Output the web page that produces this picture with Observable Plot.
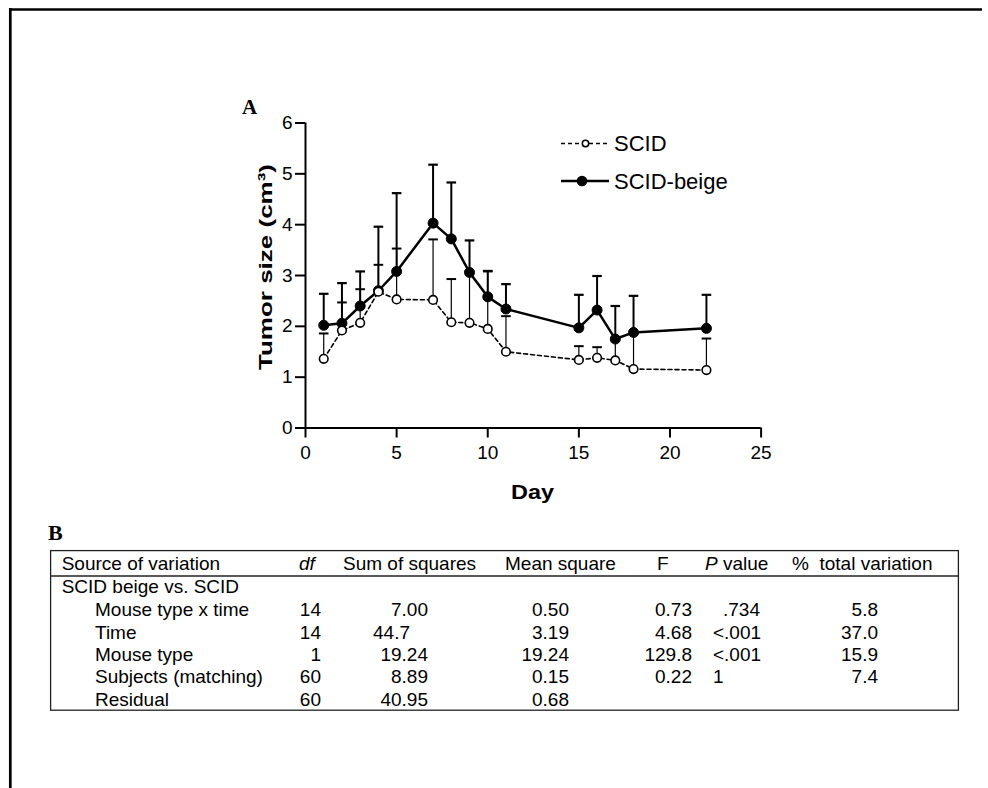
<!DOCTYPE html>
<html><head><meta charset="utf-8">
<script src="https://cdn.jsdelivr.net/npm/d3@7"></script>
<script src="https://cdn.jsdelivr.net/npm/@observablehq/plot@0.6"></script>
<style>
html,body{margin:0;padding:0;background:#fff;}
#fig{position:relative;width:988px;height:788px;overflow:hidden;background:#fff;}
#chart{position:absolute;left:0;top:0;}
#overlay{position:absolute;left:0;top:0;}
</style>
</head><body>
<div id="fig"><div id="chart"></div><svg id="overlay" width="988" height="788"></svg></div>
<script>
// ---------- Panel A data (tumor size, cm^3) ----------
const days        = [1, 2, 3, 4, 5, 7, 8, 9, 10, 11, 15, 16, 17, 18, 22];
const beigeMean   = [2.02, 2.06, 2.40, 2.70, 3.08, 4.03, 3.72, 3.06, 2.58, 2.34, 1.97, 2.32, 1.75, 1.88, 1.96];
const beigeUpper  = [2.64, 2.85, 3.08, 3.96, 4.62, 5.18, 4.83, 3.69, 3.09, 2.83, 2.62, 2.99, 2.40, 2.60, 2.62];
const scidMean    = [1.36, 1.92, 2.07, 2.68, 2.53, 2.52, 2.08, 2.07, 1.95, 1.50, 1.34, 1.38, 1.33, 1.16, 1.14];
const scidUpper   = [1.86, 2.47, 2.73, 3.21, 3.53, 3.71, 2.93, 3.08, 3.08, 2.20, 1.61, 1.59, 1.72, 1.85, 1.76];
const xTicks = [0, 5, 10, 15, 20, 25];
const yTicks = [0, 1, 2, 3, 4, 5, 6];
const seriesNames = ["SCID", "SCID-beige"];
const xLabel = "Day";
const yLabel = "Tumor size (cm³)";

// ---------- Panel B table ----------
const tableHeaders = ["Source of variation", "df", "Sum of squares", "Mean square", "F", "P value", "%  total variation"];
const groupLabel = "SCID beige vs. SCID";
const sources = ["Mouse type x time", "Time", "Mouse type", "Subjects (matching)", "Residual"];
const dfVals  = ["14", "14", "1", "60", "60"];
const sumSq   = ["7.00", "44.7", "19.24", "8.89", "40.95"];
const meanSq  = ["0.50", "3.19", "19.24", "0.15", "0.68"];
const fVals   = ["0.73", "4.68", "129.8", "0.22", ""];
const pVals   = [".734", "<.001", "<.001", "1", ""];
const pctVals = ["5.8", "37.0", "15.9", "7.4", ""];

const beige = days.map((d, i) => ({day: d, mean: beigeMean[i], upper: beigeUpper[i]}));
const scid  = days.map((d, i) => ({day: d, mean: scidMean[i], upper: scidUpper[i]}));

const capSymbol = {draw(ctx, size) { const r = Math.sqrt(size / Math.PI); ctx.moveTo(-r, 0); ctx.lineTo(r, 0); }};
const SANS = "'Liberation Sans', Arial, sans-serif";

const chart = Plot.plot({
  width: 988, height: 510,
  marginLeft: 305, marginRight: 227.4, marginTop: 122.5, marginBottom: 82.5,
  style: {fontFamily: SANS, fontSize: "19px", color: "#000", background: "transparent", overflow: "visible"},
  x: {domain: [0, 25], label: null},
  y: {domain: [0, 6], label: null},
  marks: [
    Plot.axisX({ticks: xTicks, tickFormat: d3.format("d"), tickSize: 10, tickPadding: 7, strokeWidth: 2, label: null, fontSize: 19}),
    Plot.axisY({ticks: yTicks, tickFormat: d3.format("d"), tickSize: 10, tickPadding: 3, strokeWidth: 2, label: null, fontSize: 19}),
    Plot.ruleY([0], {stroke: "#000", strokeWidth: 2}),
    Plot.ruleX([0], {stroke: "#000", strokeWidth: 2}),
    // SCID-beige
    Plot.ruleX(beige, {x: "day", y1: "mean", y2: "upper", stroke: "#000", strokeWidth: 2}),
    Plot.dot(beige, {x: "day", y: "upper", symbol: capSymbol, r: 4.8, stroke: "#000", strokeWidth: 2.2, fill: "none"}),
    Plot.line(beige, {x: "day", y: "mean", stroke: "#000", strokeWidth: 2.5}),
    Plot.dot(beige, {x: "day", y: "mean", r: 5, fill: "#000", stroke: "#000", strokeWidth: 1}),
    // SCID
    Plot.ruleX(scid, {x: "day", y1: "mean", y2: "upper", stroke: "#000", strokeWidth: 1.2}),
    Plot.dot(scid, {x: "day", y: "upper", symbol: capSymbol, r: 4.8, stroke: "#000", strokeWidth: 2, fill: "none"}),
    Plot.line(scid, {x: "day", y: "mean", stroke: "#000", strokeWidth: 1.6, strokeDasharray: "4,3"}),
    Plot.dot(scid, {x: "day", y: "mean", r: 4.3, fill: "#fff", stroke: "#000", strokeWidth: 1.6})
  ]
});
document.getElementById("chart").appendChild(chart);
// enforce tick styling
d3.select(chart).selectAll("g[aria-label$='tick label']").style("font-size", "19px");
d3.select(chart).selectAll("g[aria-label$='tick label'] text").style("font-size", "19px");
d3.select(chart).selectAll("g[aria-label$='-axis tick']").attr("stroke-width", 2).style("stroke-width", "2px");

// ---------- overlay: frame, axis titles, panel letters, legend, table ----------
const ov = d3.select("#overlay");
ov.append("line").attr("x1", 10.3).attr("x2", 10.3).attr("y1", 8).attr("y2", 788).attr("stroke", "#000").attr("stroke-width", 2.7);
ov.append("line").attr("x1", 9).attr("x2", 982).attr("y1", 9.5).attr("y2", 9.5).attr("stroke", "#000").attr("stroke-width", 2.6);

// axis titles
ov.append("text").attr("transform", "translate(272,370) rotate(-90)")
  .attr("font-family", SANS).attr("font-weight", "bold").attr("font-size", 19)
  .attr("textLength", 206).attr("lengthAdjust", "spacingAndGlyphs").text(yLabel);
ov.append("text").attr("x", 511).attr("y", 499)
  .attr("font-family", SANS).attr("font-weight", "bold").attr("font-size", 21)
  .attr("textLength", 43).attr("lengthAdjust", "spacingAndGlyphs").text(xLabel);

const serif = "'Liberation Serif', 'Times New Roman', serif";
ov.append("text").attr("x", 242).attr("y", 114).attr("font-family", serif).attr("font-weight", "bold").attr("font-size", 21).text("A");
ov.append("text").attr("x", 48).attr("y", 540).attr("font-family", serif).attr("font-weight", "bold").attr("font-size", 22).text("B");

// legend
const legendRows = [
  {name: seriesNames[0], y: 143.5, dash: "4,3", fill: "#fff", r: 3.2, cx: 585.5, sw: 1.6},
  {name: seriesNames[1], y: 181, dash: null, fill: "#000", r: 4.6, cx: 582, sw: 2.5}
];
const lg = ov.append("g");
legendRows.forEach(row => {
  lg.append("line").attr("x1", 561).attr("x2", 609).attr("y1", row.y).attr("y2", row.y)
    .attr("stroke", "#000").attr("stroke-width", row.sw).attr("stroke-dasharray", row.dash);
  lg.append("circle").attr("cx", row.cx).attr("cy", row.y).attr("r", row.r)
    .attr("fill", row.fill).attr("stroke", "#000").attr("stroke-width", 1.5);
  lg.append("text").attr("x", 614).attr("y", row.y + 7.7).attr("font-family", SANS).attr("font-size", 22).text(row.name);
});

// table
const tb = ov.append("g").attr("font-family", SANS).attr("font-size", 19).attr("fill", "#000");
tb.append("rect").attr("x", 50.6).attr("y", 550.6).attr("width", 907.8).attr("height", 159.6)
  .attr("fill", "none").attr("stroke", "#222").attr("stroke-width", 1.3);
tb.append("line").attr("x1", 50).attr("x2", 959).attr("y1", 576).attr("y2", 576).attr("stroke", "#222").attr("stroke-width", 1.3);

const headerX = [61.7, 299, 343, 505, 657, 705, 792];
const headerY = 569.5;
tableHeaders.forEach((h, i) => {
  const t = tb.append("text").attr("x", headerX[i]).attr("y", headerY);
  if (h === "df") { t.attr("font-style", "italic").text(h); }
  else if (h.startsWith("P ")) {
    t.append("tspan").attr("font-style", "italic").text("P");
    t.append("tspan").text(h.slice(1));
  } else { t.attr("xml:space", "preserve").style("white-space", "pre").text(h); }
});
tb.append("text").attr("x", 61.7).attr("y", 593.3).text(groupLabel);

const rowBase = [616.3, 638.6, 661, 683.4, 705.7];
const cols = [
  {vals: sources, x: 95,  anchor: "start"},
  {vals: dfVals,  x: 321, anchor: "end"},
  {vals: sumSq,   x: 428, anchor: "end", pad: v => v.split(".")[1]?.length === 1 ? 18 : 0},
  {vals: meanSq,  x: 569, anchor: "end"},
  {vals: fVals,   x: 692, anchor: "end"},
  {vals: pVals,   x: 713, anchor: "start", pad: v => v.startsWith(".") ? -10 : 0},
  {vals: pctVals, x: 878, anchor: "end"}
];
cols.forEach(c => c.vals.forEach((v, i) => {
  if (!v) return;
  const p = c.pad ? c.pad(v) : 0;
  tb.append("text").attr("x", c.x - p).attr("y", rowBase[i]).attr("text-anchor", c.anchor).text(v);
}));
</script>
</body></html>
